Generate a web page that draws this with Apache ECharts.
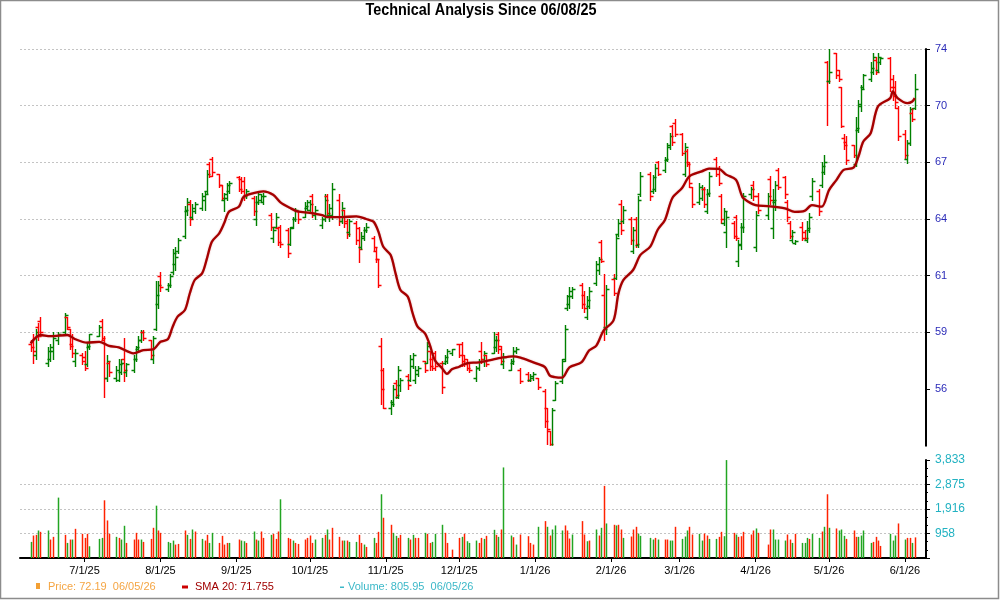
<!DOCTYPE html>
<html>
<head>
<meta charset="utf-8">
<title>Technical Analysis Since 06/08/25</title>
<script src="https://cdn.jsdelivr.net/npm/echarts@6/dist/echarts.min.js"></script>
<style>
html, body { margin: 0; padding: 0; background: #fff; }
#chart { width: 1000px; height: 600px; }
</style>
</head>
<body>
<div id="chart"></div>
<script>
// trading days shown on the chart
var tradeDays = [
  '2025-06-09','2025-06-10','2025-06-11','2025-06-12','2025-06-13','2025-06-16','2025-06-17','2025-06-18','2025-06-20','2025-06-23','2025-06-24','2025-06-25','2025-06-26','2025-06-27','2025-06-30',
  '2025-07-01','2025-07-02','2025-07-03','2025-07-07','2025-07-08','2025-07-09','2025-07-10','2025-07-11','2025-07-14','2025-07-15','2025-07-16','2025-07-17','2025-07-18','2025-07-21','2025-07-22','2025-07-23','2025-07-24','2025-07-25','2025-07-28','2025-07-29','2025-07-30','2025-07-31',
  '2025-08-01','2025-08-04','2025-08-05','2025-08-06','2025-08-07','2025-08-08','2025-08-11','2025-08-12','2025-08-13','2025-08-14','2025-08-15','2025-08-18','2025-08-19','2025-08-20','2025-08-21','2025-08-22','2025-08-25','2025-08-26','2025-08-27','2025-08-28','2025-08-29',
  '2025-09-02','2025-09-03','2025-09-04','2025-09-05','2025-09-08','2025-09-09','2025-09-10','2025-09-11','2025-09-12','2025-09-15','2025-09-16','2025-09-17','2025-09-18','2025-09-19','2025-09-22','2025-09-23','2025-09-24','2025-09-25','2025-09-26','2025-09-29','2025-09-30',
  '2025-10-01','2025-10-02','2025-10-03','2025-10-06','2025-10-07','2025-10-08','2025-10-09','2025-10-10','2025-10-13','2025-10-14','2025-10-15','2025-10-16','2025-10-17','2025-10-20','2025-10-21','2025-10-22','2025-10-23','2025-10-24','2025-10-27','2025-10-28','2025-10-29','2025-10-30','2025-10-31',
  '2025-11-03','2025-11-04','2025-11-05','2025-11-06','2025-11-07','2025-11-10','2025-11-11','2025-11-12','2025-11-13','2025-11-14','2025-11-17','2025-11-18','2025-11-19','2025-11-20','2025-11-21','2025-11-24','2025-11-25','2025-11-26','2025-11-28',
  '2025-12-01','2025-12-02','2025-12-03','2025-12-04','2025-12-05','2025-12-08','2025-12-09','2025-12-10','2025-12-11','2025-12-12','2025-12-15','2025-12-16','2025-12-17','2025-12-18','2025-12-19','2025-12-22','2025-12-23','2025-12-24','2025-12-26','2025-12-29','2025-12-30','2025-12-31',
  '2026-01-02','2026-01-05','2026-01-06','2026-01-07','2026-01-08','2026-01-09','2026-01-12','2026-01-13','2026-01-14','2026-01-15','2026-01-16','2026-01-20','2026-01-21','2026-01-22','2026-01-23','2026-01-26','2026-01-27','2026-01-28','2026-01-29','2026-01-30',
  '2026-02-02','2026-02-03','2026-02-04','2026-02-05','2026-02-06','2026-02-09','2026-02-10','2026-02-11','2026-02-12','2026-02-13','2026-02-17','2026-02-18','2026-02-19','2026-02-20','2026-02-23','2026-02-24','2026-02-25','2026-02-26','2026-02-27',
  '2026-03-02','2026-03-03','2026-03-04','2026-03-05','2026-03-06','2026-03-09','2026-03-10','2026-03-11','2026-03-12','2026-03-13','2026-03-16','2026-03-17','2026-03-18','2026-03-19','2026-03-20','2026-03-23','2026-03-24','2026-03-25','2026-03-26','2026-03-27','2026-03-30','2026-03-31',
  '2026-04-01','2026-04-02','2026-04-06','2026-04-07','2026-04-08','2026-04-09','2026-04-10','2026-04-13','2026-04-14','2026-04-15','2026-04-16','2026-04-17','2026-04-20','2026-04-21','2026-04-22','2026-04-23','2026-04-24','2026-04-27','2026-04-28','2026-04-29','2026-04-30',
  '2026-05-01','2026-05-04','2026-05-05','2026-05-06','2026-05-07','2026-05-08','2026-05-11','2026-05-12','2026-05-13','2026-05-14','2026-05-15','2026-05-18','2026-05-19','2026-05-20','2026-05-21','2026-05-22','2026-05-26','2026-05-27','2026-05-28','2026-05-29',
  '2026-06-01','2026-06-02','2026-06-03','2026-06-04','2026-06-05'
];

// open, high, low, close per trading day
var ohlc = [
  [58.4,58.6,58.0,58.2],[58.5,58.9,57.4,58.0],[57.8,59.2,57.6,59.0],[59.3,59.5,58.6,58.8],[59.6,59.8,58.8,59.0],[57.4,58.2,57.2,58.0],[57.6,58.4,57.5,58.2],[58.0,59.0,57.6,58.7],[58.6,59.0,58.4,58.9],[59.0,60.0,58.9,59.9],[59.8,59.8,59.2,59.3],[59.2,59.2,58.1,58.3],[58.4,58.9,57.7,57.9],[57.5,58.1,57.2,57.9],[57.8,57.9,57.3,57.5],
  [57.7,58.0,57.0,57.1],[57.3,58.5,57.2,58.3],[58.2,58.9,58.1,58.9],[58.8,59.4,58.8,59.3],[59.6,59.7,58.6,58.7],[58.6,58.8,55.6,56.6],[56.6,57.8,56.4,57.5],[57.4,57.5,56.7,56.9],[56.6,57.2,56.4,57.0],[56.5,57.6,56.4,57.3],[56.9,57.6,56.8,57.4],[57.6,58.7,56.4,57.0],[56.9,57.4,56.7,57.3],[57.0,57.8,56.9,57.6],[57.6,58.3,57.5,58.2],[58.1,58.8,58.0,58.6],[58.6,59.1,58.5,59.0],[59.0,59.1,58.6,58.7],[58.6,58.6,57.6,57.8],[57.6,58.8,57.4,58.7],[59.2,61.7,59.1,61.0],[60.5,61.7,60.3,61.5],
  [62.0,62.2,61.2,61.4],[61.3,61.6,61.2,61.5],[61.5,62.1,61.4,62.0],[62.2,63.4,62.1,63.2],[62.6,63.5,62.3,63.0],[63.3,64.0,63.2,63.9],[64.1,65.7,64.0,65.5],[65.4,66.1,65.2,65.9],[65.8,66.0,64.7,65.0],[65.1,65.8,65.0,65.6],[65.4,65.9,65.3,65.8],[65.6,66.4,65.5,66.2],[66.0,66.5,65.5,66.3],[66.5,67.6,66.4,67.4],[67.9,68.0,67.2,67.3],[68.2,68.3,67.3,67.5],[67.4,67.4,66.7,66.8],[66.8,66.8,66.0,66.1],[66.0,66.4,65.4,66.3],[66.1,66.9,66.0,66.8],[66.5,67.0,66.4,66.9],
  [67.2,67.3,66.5,66.6],[67.1,67.2,66.4,66.5],[67.0,67.2,66.0,66.2],[66.2,66.6,66.1,66.5],[66.1,66.2,65.2,65.4],[65.0,66.2,64.7,65.9],[65.9,66.5,65.8,66.3],[66.0,66.3,65.9,66.2],[65.9,66.4,65.8,66.2],[65.2,65.3,64.4,64.6],[64.0,64.6,63.8,64.4],[64.6,65.3,64.5,65.1],[64.5,64.6,63.6,63.8],[64.6,64.7,63.5,63.7],[64.4,64.5,63.0,63.2],[63.7,64.6,63.6,64.5],[64.6,65.1,64.5,65.0],[65.0,65.6,64.9,65.5],[65.4,65.4,64.8,65.0],[65.1,65.9,65.1,65.7],[65.6,66.0,65.5,65.9],
  [65.5,66.0,65.3,65.8],[66.2,66.3,65.1,65.3],[65.2,65.7,65.0,65.5],[64.7,65.1,64.5,65.0],[65.0,66.3,64.9,66.0],[66.2,66.3,65.1,65.3],[65.2,65.8,64.9,65.6],[65.2,66.9,65.0,66.6],[66.0,66.3,64.7,64.9],[64.9,65.9,64.8,65.6],[65.5,65.5,64.6,64.8],[64.9,65.0,64.0,64.2],[64.3,65.0,64.1,64.9],[64.8,64.9,63.7,63.9],[64.5,64.6,62.7,63.4],[63.5,64.3,63.4,64.1],[64.0,64.6,63.9,64.4],[64.4,64.8,64.3,64.6],[64.0,64.1,63.3,63.5],[63.3,63.5,62.7,62.9],[62.9,62.9,61.4,61.5],[58.3,58.7,55.2,56.0],[57.0,57.1,55.0,55.0],
  [55.0,55.4,54.7,55.2],[55.3,56.2,55.1,56.0],[56.3,56.5,55.5,55.7],[55.6,57.2,55.5,57.0],[56.2,56.6,55.9,56.5],[56.7,56.8,56.0,56.2],[56.5,57.8,56.4,57.6],[57.2,57.9,57.1,57.8],[56.5,57.2,56.3,57.0],[56.8,57.2,56.7,57.1],[57.5,57.5,56.9,57.0],[57.4,58.5,57.4,58.3],[58.0,58.0,57.0,57.2],[57.6,57.7,57.0,57.1],[57.9,58.0,57.0,57.2],[57.4,57.5,55.8,56.1],[57.4,57.8,57.3,57.7],[57.5,58.1,57.4,58.0],[57.9,58.1,57.8,58.1],
  [58.4,58.4,57.7,57.8],[58.4,58.5,57.2,57.5],[57.8,57.8,57.2,57.3],[57.6,57.6,57.0,57.1],[57.4,57.4,56.9,57.0],[56.6,57.2,56.4,57.1],[57.1,57.6,57.0,57.5],[58.0,58.5,57.4,57.6],[57.5,58.0,57.2,57.9],[57.8,57.8,57.2,57.3],[57.9,59.0,57.9,58.6],[58.2,58.8,58.0,58.6],[58.9,59.0,57.9,58.1],[58.3,58.3,57.4,57.5],[57.3,57.9,57.1,57.7],[57.0,57.6,57.0,57.5],[57.4,58.2,57.3,58.0],[58.0,58.2,57.9,58.1],[57.0,57.1,56.3,56.4],[56.8,56.9,56.4,56.5],[56.5,56.8,56.4,56.7],[56.6,56.9,56.5,56.8],
  [56.6,56.6,56.0,56.1],[55.9,56.0,54.0,54.3],[55.0,55.0,53.1,53.9],[53.8,53.8,53.0,53.1],[53.0,55.0,53.0,54.9],[55.4,56.4,55.4,56.3],[56.4,57.6,56.3,57.5],[57.6,59.4,57.5,59.2],[60.3,61.0,60.2,60.9],[60.5,61.4,60.3,61.2],[60.9,61.4,60.8,61.3],[61.5,61.6,60.3,60.5],[61.0,61.2,60.1,60.3],[59.8,60.9,59.7,60.7],[60.4,61.4,60.3,61.2],[61.6,62.8,61.5,62.6],[62.3,63.0,62.1,62.9],[63.8,63.9,62.7,62.8],[61.0,62.1,58.6,59.2],[59.3,61.5,58.9,61.3],
  [61.8,62.1,61.0,61.1],[61.9,64.2,61.8,64.0],[64.2,65.0,64.1,64.8],[65.8,66.0,64.2,64.4],[64.9,65.7,64.8,65.5],[65.0,65.1,63.7,63.9],[63.3,64.6,63.2,64.4],[65.0,65.1,63.5,63.7],[63.6,66.2,63.5,66.0],[66.3,67.5,66.2,67.3],[67.4,67.5,66.0,66.2],[66.5,67.35,66.4,67.2],[66.6,67.9,66.5,67.7],[68.0,68.06,67.35,67.4],[67.6,68.3,67.5,68.2],[68.1,69.0,68.06,68.9],[68.8,69.56,68.7,69.4],[69.9,70.0,68.94,69.1],[70.1,70.27,69.4,69.5],
  [69.5,69.56,68.4,68.5],[67.4,69.0,67.26,68.8],[68.6,68.7,67.8,67.9],[68.0,68.0,66.7,66.9],[66.7,66.7,65.66,65.8],[65.9,66.9,65.8,66.7],[66.1,66.8,66.0,66.6],[66.6,66.7,65.66,65.8],[65.4,66.6,65.3,66.4],[66.3,67.5,66.2,67.3],[68.2,68.3,67.26,67.4],[67.7,67.8,66.8,66.9],[66.2,66.3,64.8,65.0],[64.8,65.6,64.7,65.4],[64.3,65.4,63.5,65.1],[64.8,64.9,64.0,64.1],[65.1,65.2,63.9,64.0],[62.8,63.9,62.5,63.7],[63.6,64.8,63.4,64.6],[64.6,66.4,64.3,66.2],[66.3,66.7,66.1,66.6],[66.8,67.0,66.0,66.2],
  [63.5,65.4,63.3,65.2],[66.2,66.4,65.3,65.5],[65.2,66.4,65.0,66.2],[67.1,67.3,65.8,66.0],[64.5,66.6,64.0,66.0],[65.9,67.0,65.5,66.8],[67.6,67.7,66.6,66.7],[67.2,67.3,66.1,66.3],[65.9,66.0,64.9,65.1],[64.8,64.9,64.0,64.1],[63.9,64.4,63.8,64.3],[63.75,63.9,63.7,63.85],[64.6,64.85,63.9,64.0],[64.3,64.4,63.9,64.0],[63.9,64.9,63.8,64.5],[64.4,65.3,64.3,65.1],[66.2,67.15,66.0,67.0],[66.5,66.6,65.2,65.4],[66.8,68.0,66.7,67.8],[67.5,68.4,67.4,68.0],[73.3,73.35,70.0,72.3],
  [72.3,74.0,72.2,72.8],[73.8,73.8,72.45,72.6],[72.9,72.9,72.3,72.4],[72.0,72.0,69.85,69.9],[69.3,69.5,68.7,68.9],[69.1,69.4,67.9,68.1],[68.9,68.9,68.3,68.4],[67.9,70.4,67.8,69.8],[69.7,71.3,69.6,71.1],[71.0,72.1,70.7,71.9],[72.0,72.7,71.9,72.6],[72.4,73.3,72.3,73.0],[72.8,73.8,72.7,73.6],[73.4,73.6,72.7,72.8],[72.9,73.8,72.8,73.6],[73.3,73.6,73.2,73.5],[73.5,73.6,71.8,72.0],[72.4,72.6,71.3,71.5],[72.0,72.3,70.9,71.2],[70.9,71.0,69.2,69.4],
  [69.5,69.7,68.2,68.4],[68.2,69.2,67.95,69.0],[69.0,70.95,68.9,70.8],[70.6,70.9,70.2,70.3],[70.9,72.7,70.8,71.9]
];

// daily volume and its bar colour (1 = green, 0 = red)
var volume = [
  630,879,905,1076,1023,1076,722,827,2362,905,590,722,722,1141,945,
  787,945,459,748,787,2257,1469,945,827,787,722,1260,590,722,984,722,722,630,748,1181,2047,1076,
  984,630,590,682,525,551,1076,905,748,1115,1036,748,682,905,590,984,590,866,525,590,590,
  722,682,656,590,1036,722,682,1036,787,905,945,748,1036,2296,787,748,682,590,551,722,787,
  879,590,722,787,905,1115,722,1181,827,682,682,682,630,630,905,590,525,433,787,590,1023,2493,1574,
  1299,984,866,787,905,787,722,905,787,787,984,945,590,630,945,1299,984,590,328,
  787,827,945,656,590,682,590,787,748,866,1102,905,827,1115,3542,879,813,525,918,853,590,525,
  1220,1443,1220,879,1115,1273,1076,1273,1076,761,918,1443,918,656,682,1115,879,1181,2821,1351,
  1299,1273,1299,1115,787,840,1115,1220,958,866,787,722,787,722,722,722,682,682,1220,
  748,840,1076,1220,918,945,682,958,879,748,748,827,1023,853,3830,984,918,827,853,1023,918,1076,
  1155,984,525,1115,1115,722,722,682,918,722,590,945,590,590,787,748,945,787,1036,1220,2493,
  1181,1155,1076,1115,866,748,1076,827,827,879,1076,590,630,827,682,472,945,682,879,1351,
  722,787,787,590,806
];
var volUp = [
  1,0,0,1,0,1,0,0,1,0,1,0,1,0,0,
  0,0,1,1,1,0,0,0,1,0,1,1,0,0,0,0,1,0,0,0,1,0,
  0,1,1,1,0,0,0,1,0,1,0,1,0,0,1,1,0,0,0,0,1,
  0,1,1,0,1,0,1,0,0,1,0,0,0,1,0,0,1,0,0,0,0,
  0,0,1,1,0,1,0,0,0,0,1,0,1,1,0,0,1,0,1,0,0,1,0,
  0,1,1,0,0,1,0,1,0,0,1,0,0,1,1,1,0,0,0,
  0,1,0,1,1,1,0,0,1,0,1,0,1,0,1,1,0,1,0,0,0,0,
  1,0,1,0,1,1,1,0,0,0,1,0,0,1,0,1,0,1,0,1,
  0,1,0,0,1,0,0,0,1,1,1,1,0,1,0,0,1,1,0,
  1,1,1,0,0,1,1,0,0,1,1,0,0,1,1,0,1,0,0,0,0,0,
  1,0,0,0,1,1,1,1,0,0,1,0,1,1,1,0,1,1,0,1,0,
  1,0,1,1,1,0,0,0,1,1,1,1,0,0,0,0,1,1,1,0,
  1,0,0,1,0
];

// 20-day simple moving average
var smaDays = [
  '2025-06-09','2025-06-13','2025-06-17','2025-06-24','2025-06-27','2025-07-02','2025-07-07','2025-07-11','2025-07-15','2025-07-21','2025-07-25','2025-07-29',
  '2025-08-01','2025-08-04','2025-08-06','2025-08-08','2025-08-11','2025-08-13','2025-08-15','2025-08-18','2025-08-20','2025-08-22','2025-08-25','2025-08-27','2025-08-29',
  '2025-09-02','2025-09-04','2025-09-08','2025-09-12','2025-09-16','2025-09-19','2025-09-23','2025-09-26',
  '2025-10-01','2025-10-06','2025-10-08','2025-10-14','2025-10-20','2025-10-24','2025-10-27','2025-10-29','2025-10-31',
  '2025-11-03','2025-11-05','2025-11-07','2025-11-10','2025-11-12','2025-11-14','2025-11-17','2025-11-19','2025-11-21','2025-11-24','2025-11-26','2025-11-28',
  '2025-12-01','2025-12-04','2025-12-09','2025-12-15','2025-12-18','2025-12-23','2025-12-26','2025-12-30',
  '2026-01-02','2026-01-05','2026-01-07','2026-01-09','2026-01-12','2026-01-15','2026-01-20','2026-01-23','2026-01-26','2026-01-29',
  '2026-02-02','2026-02-04','2026-02-06','2026-02-10','2026-02-13','2026-02-17','2026-02-20','2026-02-23','2026-02-26',
  '2026-03-02','2026-03-05','2026-03-10','2026-03-13','2026-03-17','2026-03-20','2026-03-24','2026-03-26','2026-03-27',
  '2026-04-01','2026-04-06','2026-04-13','2026-04-17','2026-04-21','2026-04-24','2026-04-28',
  '2026-05-01','2026-05-04','2026-05-07','2026-05-11','2026-05-13','2026-05-15','2026-05-18','2026-05-21','2026-05-26','2026-05-27','2026-05-29',
  '2026-06-02','2026-06-04','2026-06-05'
];
var smaValues = [
  58.42,58.86,58.8,58.86,58.65,58.45,58.5,58.28,58.2,57.89,58.06,58.1,
  58.5,58.63,59.3,59.83,60.18,61.07,61.77,62.12,62.92,63.8,64.24,64.77,65.39,
  65.65,66.18,66.37,66.46,66.28,65.88,65.58,65.4,
  65.32,65.2,65.1,65.1,65.14,65.0,64.86,64.33,63.53,
  63.09,62.12,61.24,60.89,60.0,59.3,58.95,58.33,57.54,57.1,56.8,57.04,
  57.18,57.36,57.41,57.57,57.65,57.73,57.66,57.48,
  57.33,57.16,56.71,56.63,56.6,57.15,57.42,58.04,58.3,59.1,
  59.63,61.05,61.76,62.3,63.1,63.54,64.42,64.95,66.1,
  66.64,67.26,67.52,67.67,67.65,67.35,67.08,66.37,66.1,
  65.73,65.68,65.56,65.38,65.43,65.73,65.65,
  66.53,67.06,67.6,67.72,68.3,69.1,69.54,70.96,71.4,71.75,71.4,
  71.13,71.22,71.4
];

// axis tick labels as printed on the chart
var priceTickLabels = ['', '56', '59', '61', '64', '67', '70', '74'];
var volTickLabels = ['', '958', '1,916', '2,875', '3,833'];
var legendPrice = 'Price: 72.19  06/05/26';
var legendSma = 'SMA 20: 71.755';
var legendVol = 'Volume: 805.95  06/05/26';

var barUp = '#008000', barDown = '#ff0000';
var volGreen = '#22a522', volRed = '#ff2200';
var labelFont = '"Liberation Sans", Arial, sans-serif';

function ts(s) {
  var p = s.split('-');
  return new Date(+p[0], p[1] - 1, +p[2]).getTime();
}

var xMin = new Date(2025, 5, 4, 15, 36).getTime();
var xMax = new Date(2026, 5, 9, 14, 24).getTime();

var priceData = tradeDays.map(function (d, i) {
  return [ts(d), ohlc[i][0], ohlc[i][1], ohlc[i][2], ohlc[i][3]];
});
var volData = tradeDays.map(function (d, i) {
  return [ts(d), volume[i], volUp[i]];
});
var smaData = smaDays.map(function (d, i) {
  return [ts(d), smaValues[i]];
});

function drawOhlc(params, api) {
  var t = api.value(0), o = api.value(1), h = api.value(2), l = api.value(3), c = api.value(4);
  var top = api.coord([t, h]);
  var bot = api.coord([t, l]);
  var yo = Math.round(api.coord([t, o])[1]) + 0.5;
  var yc = Math.round(api.coord([t, c])[1]) + 0.5;
  var x = Math.round(top[0]) + 0.5;
  var color = c >= o ? barUp : barDown;
  return {
    type: 'group',
    children: [
      { type: 'line', shape: { x1: x, y1: Math.round(top[1]), x2: x, y2: Math.round(bot[1]) + 1 }, style: { stroke: color, lineWidth: 1.4 } },
      { type: 'line', shape: { x1: x - 3, y1: yo, x2: x, y2: yo }, style: { stroke: color, lineWidth: 1.4 } },
      { type: 'line', shape: { x1: x, y1: yc, x2: x + 3, y2: yc }, style: { stroke: color, lineWidth: 1.4 } }
    ]
  };
}

function drawVolume(params, api) {
  var t = api.value(0);
  var p = api.coord([t, api.value(1)]);
  var base = api.coord([t, 0]);
  return {
    type: 'rect',
    shape: { x: Math.round(p[0]) - 0.25, y: p[1], width: 1.5, height: base[1] - p[1] },
    style: { fill: api.value(2) ? volGreen : volRed }
  };
}

var dashed = { show: true, lineStyle: { color: '#c4c4c4', type: [2, 2], width: 1 } };

var chart = echarts.init(document.getElementById('chart'));
chart.setOption({
  animation: false,
  backgroundColor: '#fff',
  grid: [
    { left: 20, right: 74, top: 49, bottom: 154.33 },
    { left: 20, right: 74, top: 460, bottom: 42 }
  ],
  xAxis: [
    { type: 'time', gridIndex: 0, min: xMin, max: xMax, show: false },
    {
      type: 'time', gridIndex: 1, min: xMin, max: xMax, splitNumber: 12,
      axisLine: { lineStyle: { color: '#000', width: 2 } },
      axisTick: { show: true, length: 4, lineStyle: { color: '#000' } },
      splitLine: { show: false },
      axisLabel: {
        color: '#000', fontSize: 11, fontFamily: labelFont, margin: 7,
        formatter: function (v) {
          var d = new Date(v);
          return (d.getMonth() + 1) + '/' + d.getDate() + '/' + String(d.getFullYear()).slice(2);
        }
      }
    }
  ],
  yAxis: [
    { type: 'value', gridIndex: 0, min: 53, max: 74, show: false },
    {
      type: 'value', gridIndex: 0, position: 'right', min: 0, max: 7, interval: 1,
      axisLine: { show: true, lineStyle: { color: '#000', width: 2 } },
      axisTick: { show: true, length: 4, customValues: [1, 2, 3, 4, 5, 6, 7], lineStyle: { color: '#000' } },
      splitLine: Object.assign({ showMinLine: false }, dashed),
      axisLabel: {
        color: '#2b2bb8', fontSize: 11, fontFamily: labelFont, margin: 9,
        formatter: function (v) { return priceTickLabels[Math.round(v)] || ''; }
      }
    },
    {
      type: 'value', gridIndex: 1, position: 'right', min: 0, max: 3833, interval: 958.25,
      axisLine: { show: true, lineStyle: { color: '#000', width: 2 } },
      axisTick: { show: true, length: 4, lineStyle: { color: '#000' } },
      minorTick: { show: true, splitNumber: 3, length: 2, lineStyle: { color: '#000' } },
      splitLine: Object.assign({ showMinLine: false, showMaxLine: false }, dashed),
      axisLabel: {
        color: '#22b2c2', fontSize: 12, fontFamily: labelFont, margin: 9,
        formatter: function (v) { return volTickLabels[Math.round(v / 958.25)] || ''; }
      }
    }
  ],
  series: [
    {
      name: 'Price', type: 'custom', xAxisIndex: 0, yAxisIndex: 0,
      renderItem: drawOhlc, encode: { x: 0, y: [1, 2, 3, 4] }, data: priceData, clip: true
    },
    {
      name: 'SMA 20', type: 'line', xAxisIndex: 0, yAxisIndex: 0, data: smaData,
      smooth: 0.3, showSymbol: false, symbol: 'none',
      lineStyle: { color: '#a50000', width: 2.3, shadowColor: 'rgba(200,80,80,0.5)', shadowBlur: 1.5 }
    },
    {
      name: 'Volume', type: 'custom', xAxisIndex: 1, yAxisIndex: 2,
      renderItem: drawVolume, encode: { x: 0, y: 1 }, data: volData, clip: true
    }
  ],
  graphic: [
    { type: 'rect', shape: { x: 0.5, y: 0.5, width: 998, height: 598 }, style: { fill: 'none', stroke: '#8c8c8c', lineWidth: 1.5 }, silent: true },
    {
      type: 'text', x: 481, y: 11, scaleX: 0.9,
      style: { text: 'Technical Analysis Since 06/08/25', fill: '#000', fontSize: 16, fontWeight: 'bold', fontFamily: labelFont, align: 'center', verticalAlign: 'middle' }
    },
    { type: 'rect', shape: { x: 36, y: 583, width: 4, height: 6 }, style: { fill: '#f3a034' } },
    { type: 'text', x: 48, y: 587, style: { text: legendPrice, fill: '#f5a543', fontSize: 11, fontFamily: labelFont, verticalAlign: 'middle' } },
    { type: 'rect', shape: { x: 182, y: 585.5, width: 6, height: 3 }, style: { fill: '#cc0000' } },
    { type: 'text', x: 195, y: 587, style: { text: legendSma, fill: '#a00000', fontSize: 11, fontFamily: labelFont, verticalAlign: 'middle' } },
    { type: 'rect', shape: { x: 340, y: 586.5, width: 4, height: 1.5 }, style: { fill: '#3cb8c8' } },
    { type: 'text', x: 348, y: 587, style: { text: legendVol, fill: '#3cb8c8', fontSize: 11, fontFamily: labelFont, verticalAlign: 'middle' } }
  ]
});
</script>
</body>
</html>
